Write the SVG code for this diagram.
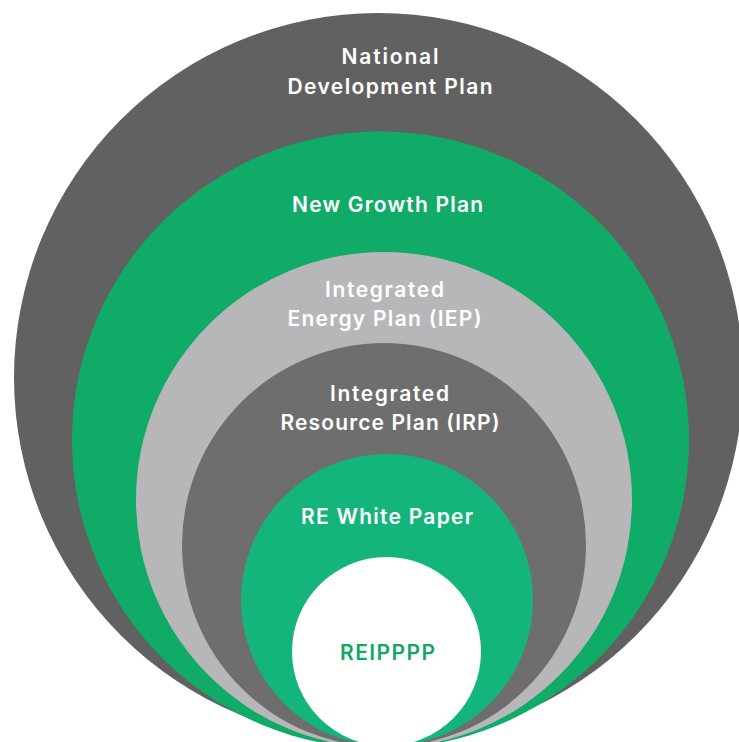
<svg xmlns="http://www.w3.org/2000/svg" width="739" height="742" viewBox="0 0 739 742">
<style>
.lbl{font-family:Inter,"Noto Sans","Liberation Sans",sans-serif;font-weight:600;font-size:21px;fill:#ffffff;text-anchor:middle}
.g{fill:#10a865}
</style>
<rect width="739" height="742" fill="#ffffff"/>
<g id="ndp">
<circle cx="378.5" cy="377.5" r="364.5" fill="#616161"/>
<text class="lbl" x="390" y="64" textLength="97" lengthAdjust="spacing">National</text>
<text class="lbl" x="390" y="94" textLength="205" lengthAdjust="spacing">Development Plan</text>
</g>
<g id="ngp">
<circle cx="380.5" cy="440" r="308.5" fill="#10ab66"/>
<text class="lbl" x="387.5" y="212" textLength="191" lengthAdjust="spacing">New Growth Plan</text>
</g>
<g id="iep">
<circle cx="384" cy="500" r="248" fill="#b7b7b9"/>
<text class="lbl" x="384.5" y="297" textLength="119" lengthAdjust="spacing">Integrated</text>
<text class="lbl" x="384.5" y="326" textLength="194" lengthAdjust="spacing">Energy Plan (IEP)</text>
</g>
<g id="irp">
<circle cx="384" cy="545" r="202" fill="#6e6e6e"/>
<text class="lbl" x="389.5" y="401" textLength="119" lengthAdjust="spacing">Integrated</text>
<text class="lbl" x="390" y="430" textLength="219" lengthAdjust="spacing">Resource Plan (IRP)</text>
</g>
<g id="rewp">
<circle cx="387" cy="600" r="146" fill="#14b57b"/>
<text class="lbl" x="387" y="524" textLength="172" lengthAdjust="spacing">RE White Paper</text>
</g>
<g id="reipppp">
<circle cx="386.5" cy="651.5" r="94.5" fill="#ffffff"/>
<text class="lbl g" x="387.5" y="660" textLength="95" lengthAdjust="spacing">REIPPPP</text>
</g>
<g id="connectors"></g>
</svg>
